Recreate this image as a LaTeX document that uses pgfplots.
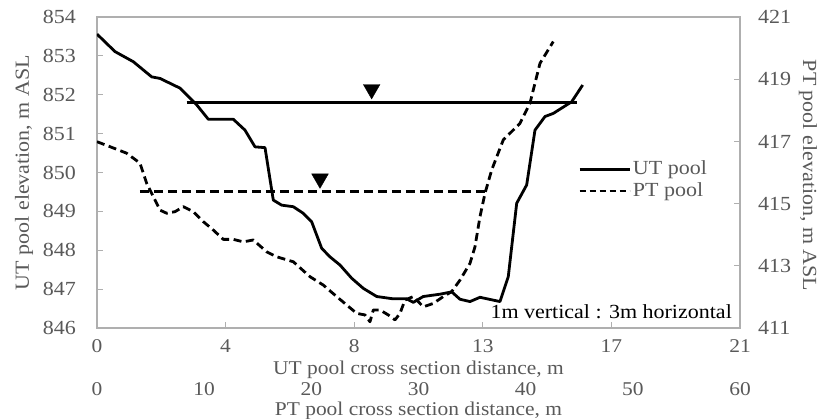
\documentclass[border=0pt]{standalone}
\usepackage{fontspec}
\setmainfont{Liberation Serif}[FakeStretch=1.1]
\usepackage{pgfplots}
\pgfplotsset{compat=1.18}
\definecolor{txt}{RGB}{89,89,89}
\definecolor{axc}{RGB}{175,175,175}
\begin{document}
\fontsize{20}{24}\selectfont
\begin{tikzpicture}
\useasboundingbox (-97pt,-90pt) rectangle (730pt,328pt);
\begin{axis}[
  at={(0pt,0pt)}, anchor=south west,
  scale only axis, width=643pt, height=311pt,
  xmin=0, xmax=21, ymin=846, ymax=854,
  /pgf/number format/assume math mode=true,
  axis line style={axc, line width=1.2pt},
  tick style={axc, line width=1.2pt}, major tick length=6pt,
  tick align=inside, tick pos=left,
  xtick={0,4.2,8.4,12.6,16.8,21}, xticklabels={0,4,8,13,17,21},
  ytick={846,847,...,854},
  xticklabel style={anchor=base, yshift=-24pt, inner sep=0pt, text=txt, font=\fontsize{19.5}{22}\selectfont},
  yticklabel style={anchor=east, xshift=-21pt, inner sep=0pt, text=txt},
  every axis x label/.style={at={(axis description cs:0.5,0)}, anchor=base, yshift=-46pt, inner sep=0pt, text=txt, font=\fontsize{19.5}{22}\selectfont},
  every axis y label/.style={at={(axis description cs:-0.1058,0.5)}, rotate=90, anchor=base, inner sep=0pt, text=txt},
  xlabel={UT pool cross section distance, m},
  ylabel={UT pool elevation, m ASL},
  legend image code/.code={\draw[#1] (0pt,0pt) -- (50pt,0pt);},
  legend style={draw=none, fill=none, at={(axis description cs:0.748,0.545)}, anchor=north west, text=txt, inner sep=0pt, row sep=1pt},
  legend cell align=left,
]
\addplot[black, line width=2.8pt, line join=round] coordinates {
(0,853.56) (0.588,853.11) (1.186,852.85) (1.786,852.46) (2.057,852.42) (2.711,852.17)
(3.256,851.74) (3.635,851.37) (4.451,851.37) (4.833,851.09) (5.160,850.66) (5.487,850.64)
(5.758,849.29) (6.032,849.16) (6.411,849.12) (6.737,848.95) (7.012,848.73) (7.338,848.05)
(7.609,847.83) (7.936,847.62) (8.318,847.28) (8.697,847.02) (9.135,846.81) (9.677,846.75)
(10.114,846.75) (10.330,846.66) (10.656,846.81) (11.202,846.87) (11.584,846.93) (11.855,846.74)
(12.181,846.68) (12.508,846.79) (13.161,846.68) (13.432,847.32) (13.707,849.21) (14.033,849.68)
(14.304,851.09) (14.631,851.44) (14.902,851.52) (15.503,851.82) (15.862,852.25)
};
\addlegendentry{UT pool}
\addlegendimage{black, line width=2.8pt, dash pattern=on 6pt off 4pt}
\addlegendentry{PT pool}
\addplot[black, line width=2.8pt, forget plot] coordinates {(2.93,851.80) (15.67,851.80)};
\addplot[only marks, mark=triangle*, mark size=9.6pt, mark options={rotate=180, fill=black, draw=none}, forget plot] coordinates {(8.97,852.14)};
\node[anchor=base east, text=black, inner sep=0pt] at (axis description cs:0.9876,0.032) {1m vertical : 3m horizontal};
\end{axis}
\begin{axis}[
  at={(0pt,0pt)}, anchor=south west,
  scale only axis, width=643pt, height=311pt,
  xmin=0, xmax=60, ymin=411, ymax=421,
  /pgf/number format/assume math mode=true,
  axis x line*=bottom, axis y line*=right,
  axis line style={axc, line width=1.2pt},
  x axis line style={draw=none},
  tick style={axc, line width=1.2pt}, major tick length=6pt,
  tick align=inside,
  xtick style={draw=none},
  xtick={0,10,...,60},
  ytick={411,413,...,421},
  xticklabel style={anchor=base, yshift=-67pt, inner sep=0pt, text=txt, font=\fontsize{19.5}{22}\selectfont},
  yticklabel style={anchor=west, xshift=18pt, inner sep=0pt, text=txt},
  every axis x label/.style={at={(axis description cs:0.5,0)}, anchor=base, yshift=-87pt, inner sep=0pt, text=txt, font=\fontsize{19.5}{22}\selectfont},
  every axis y label/.style={at={(axis description cs:1.098,0.49)}, rotate=-90, anchor=base, inner sep=0pt, text=txt},
  xlabel={PT pool cross section distance, m},
  ylabel={PT pool elevation, m ASL},
]
\addplot[black, line width=2.8pt, dash pattern=on 8pt off 4.5pt, line join=round] coordinates {
(0,416.99) (1.213,416.83) (2.771,416.62) (4.012,416.30) (4.638,415.65) (5.104,415.33)
(5.879,414.79) (6.504,414.69) (7.278,414.74) (8.053,414.90) (8.986,414.74) (9.919,414.42)
(10.852,414.15) (11.785,413.85) (12.718,413.85) (13.651,413.77) (14.584,413.83) (15.835,413.45)
(16.768,413.29) (18.317,413.13) (19.875,412.65) (21.116,412.38) (22.366,412.01) (23.300,411.74)
(24.233,411.47) (25.007,411.42) (25.474,411.20) (25.782,411.58) (26.407,411.58) (27.181,411.42)
(27.806,411.26) (28.273,411.47) (28.739,411.90) (29.514,412.01) (30.447,411.68) (31.380,411.79)
(32.313,412.01) (33.097,412.17) (33.871,412.54) (34.805,413.08) (35.271,413.61) (35.738,414.58)
(36.204,415.33) (36.829,416.08) (37.912,417.05) (39.470,417.58) (40.403,418.23) (41.336,419.51)
(42.577,420.21)
};
\addplot[black, line width=2.8pt, dash pattern=on 9pt off 5pt] coordinates {(4.01,415.38) (36.36,415.38)};
\addplot[only marks, mark=triangle*, mark size=9.6pt, mark options={rotate=180, fill=black, draw=none}] coordinates {(20.81,415.80)};
\end{axis}
\end{tikzpicture}
\end{document}
